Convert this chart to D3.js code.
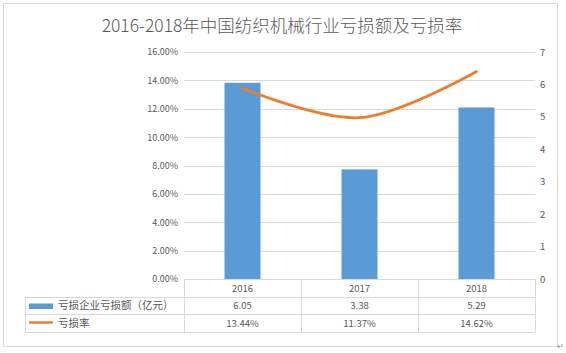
<!DOCTYPE html>
<html>
<head>
<meta charset="utf-8">
<script src="https://cdn.jsdelivr.net/npm/d3@7"></script>
<style>
  body { margin: 0; background: #fff; }
  svg text { font-family: "Noto Sans CJK SC", "Noto Sans", sans-serif; fill: #595959; }
</style>
</head>
<body>
<script>
// 数据
var years = ["2016", "2017", "2018"];
var lossAmount = [6.05, 3.38, 5.29];      // 亏损企业亏损额（亿元）
var lossRate = [13.44, 11.37, 14.62];     // 亏损率 (%)
var leftTicks = [0, 2, 4, 6, 8, 10, 12, 14, 16];
var rightTicks = [0, 1, 2, 3, 4, 5, 6, 7];
var amountLabels = ["6.05", "3.38", "5.29"];
var rateLabels = ["13.44%", "11.37%", "14.62%"];

var width = 566, height = 353;
var blue = "#5B9BD5", orange = "#ED7D31", grid = "#D9D9D9";

var svg = d3.select("body").append("svg")
    .attr("width", width)
    .attr("height", height);

// 外框
svg.append("rect")
    .attr("x", 3.5).attr("y", 3.5)
    .attr("width", 554).attr("height", 343)
    .attr("fill", "none").attr("stroke", grid);

// 标题
svg.append("text")
    .attr("x", 282).attr("y", 32)
    .attr("text-anchor", "middle")
    .style("font-size", "17.5px")
    .style("font-weight", "300")
    .text("2016-2018年中国纺织机械行业亏损额及亏损率");

var plot = {left: 184, right: 535, top: 52, bottom: 279};

var x = d3.scaleBand().domain(years).range([plot.left, plot.right]);
var yL = d3.scaleLinear().domain([0, 16]).range([plot.bottom, plot.top]);
var yR = d3.scaleLinear().domain([0, 7]).range([plot.bottom, plot.top]);

// 网格线
svg.append("g").selectAll("line")
    .data(leftTicks.slice(1))
    .enter().append("line")
    .attr("x1", plot.left).attr("x2", plot.right)
    .attr("y1", function(d) { return Math.round(yL(d)) + 0.5; })
    .attr("y2", function(d) { return Math.round(yL(d)) + 0.5; })
    .attr("stroke", grid);

// 左轴
var axisL = svg.append("g")
    .attr("transform", "translate(" + (plot.left - 6) + ",0)")
    .call(d3.axisLeft(yL).tickValues(leftTicks).tickSize(0).tickPadding(0)
        .tickFormat(function(d) { return d.toFixed(2) + "%"; }));
axisL.select(".domain").remove();
axisL.selectAll("text").style("font-size", "9px");

// 右轴
var axisR = svg.append("g")
    .attr("transform", "translate(" + (plot.right + 5) + ",0)")
    .call(d3.axisRight(yR).tickValues(rightTicks).tickSize(0).tickPadding(0)
        .tickFormat(d3.format("d")));
axisR.select(".domain").remove();
axisR.selectAll("text").style("font-size", "9.5px");

// 柱
var bw = 36;
svg.append("g").selectAll("rect")
    .data(lossAmount)
    .enter().append("rect")
    .attr("x", function(d, i) { return x(years[i]) + x.bandwidth() / 2 - bw / 2; })
    .attr("y", function(d) { return yR(d); })
    .attr("width", bw)
    .attr("height", function(d) { return plot.bottom - yR(d); })
    .attr("fill", blue);

// 折线（平滑）
var line = d3.line()
    .x(function(d, i) { return x(years[i]) + x.bandwidth() / 2; })
    .y(function(d) { return yL(d); })
    .curve(d3.curveCatmullRom.alpha(0.5));

svg.append("path")
    .datum(lossRate)
    .attr("d", line)
    .attr("fill", "none")
    .attr("stroke", orange)
    .attr("stroke-width", 2.8)
    .attr("stroke-linecap", "round");

// 数据表
var rowY = [279, 297, 314, 332];
var tableLeft = 25;
var tg = svg.append("g").attr("stroke", grid).attr("fill", "none");
// 横线
tg.append("line").attr("x1", plot.left).attr("x2", plot.right).attr("y1", rowY[0] + 0.5).attr("y2", rowY[0] + 0.5);
[1, 2, 3].forEach(function(r) {
    tg.append("line").attr("x1", tableLeft).attr("x2", plot.right)
        .attr("y1", rowY[r] + 0.5).attr("y2", rowY[r] + 0.5);
});
// 竖线
tg.append("line").attr("x1", tableLeft + 0.5).attr("x2", tableLeft + 0.5).attr("y1", rowY[1]).attr("y2", rowY[3]);
years.forEach(function(yv) {
    tg.append("line").attr("x1", Math.round(x(yv)) + 0.5).attr("x2", Math.round(x(yv)) + 0.5)
        .attr("y1", rowY[0]).attr("y2", rowY[3]);
});
tg.append("line").attr("x1", plot.right + 0.5).attr("x2", plot.right + 0.5).attr("y1", rowY[0]).attr("y2", rowY[3]);

// 表格文字
var rows = [years, amountLabels, rateLabels];
rows.forEach(function(vals, r) {
    svg.append("g").selectAll("text")
        .data(vals)
        .enter().append("text")
        .attr("x", function(d, i) { return x(years[i]) + x.bandwidth() / 2; })
        .attr("y", (rowY[r] + rowY[r + 1]) / 2 + 3.5)
        .attr("text-anchor", "middle")
        .style("font-size", "9.5px")
        .text(function(d) { return d; });
});

// 图例
svg.append("rect")
    .attr("x", 29).attr("y", 303.5).attr("width", 24).attr("height", 5.5)
    .attr("fill", blue);
svg.append("text")
    .attr("x", 58).attr("y", (rowY[1] + rowY[2]) / 2 + 3.5)
    .style("font-size", "10.5px")
    .text("亏损企业亏损额（亿元）");
svg.append("line")
    .attr("x1", 29).attr("x2", 53)
    .attr("y1", 322.5).attr("y2", 322.5)
    .attr("stroke", orange).attr("stroke-width", 2.5);
svg.append("text")
    .attr("x", 58).attr("y", (rowY[2] + rowY[3]) / 2 + 3.5)
    .style("font-size", "10.5px")
    .text("亏损率");

// 段落标记
svg.append("text")
    .attr("x", 557).attr("y", 349)
    .style("font-size", "8px")
    .style("fill", "#888")
    .text("↵");
</script>
</body>
</html>
